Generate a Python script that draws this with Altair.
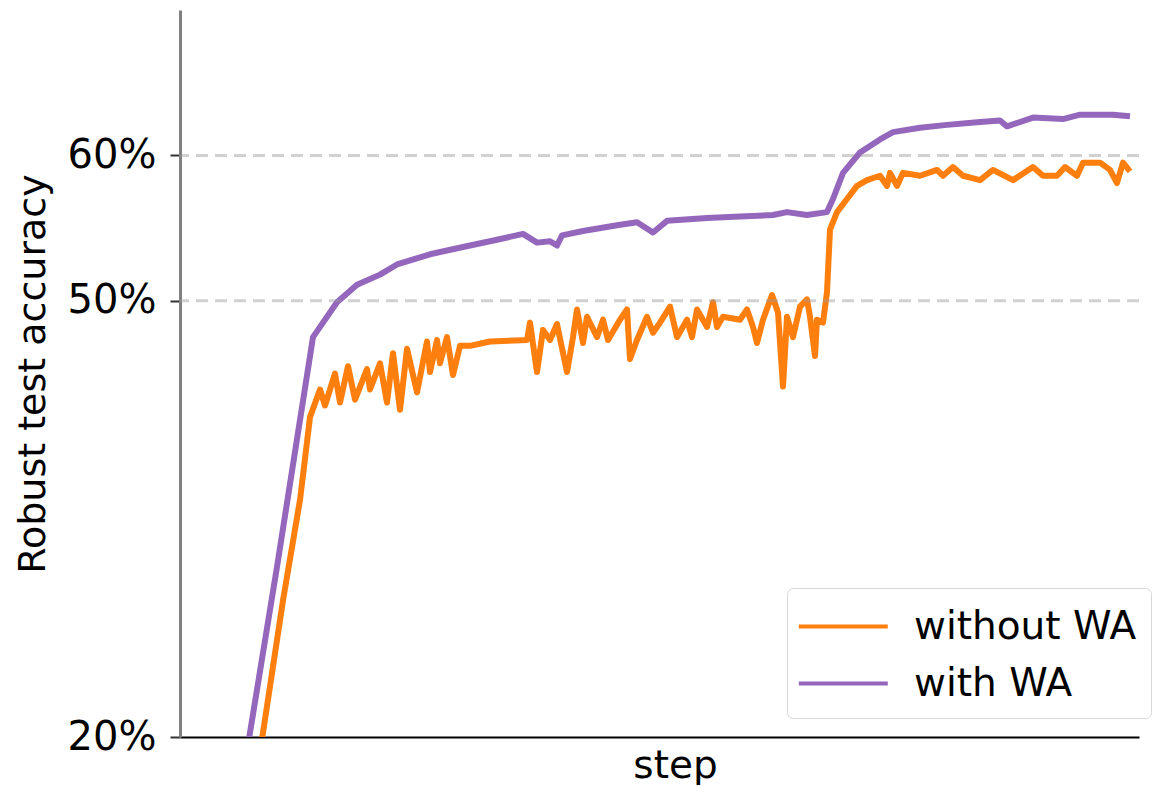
import altair as alt
import pandas as pd

# ---- data ----
with_steps = [46, 70, 97, 120, 133, 143, 157, 177, 200, 217, 250, 283, 317, 343, 357, 370, 377, 382, 403,
              437, 457, 473, 487, 527, 560, 593, 607, 627, 647, 653, 663, 680, 700, 713, 740,
              767, 800, 820, 827, 853, 883, 900, 933, 950]
with_acc = [10.0, 20.3, 31.7, 41.8, 47.5, 48.5, 49.9, 51.1, 51.8, 52.5, 53.2, 53.7, 54.2, 54.6, 54.0, 54.1, 53.8, 54.5, 54.8,
            55.2, 55.4, 54.7, 55.5, 55.7, 55.8, 55.9, 56.1, 55.9, 56.1, 57.0, 58.8, 60.2, 61.1, 61.6, 61.9,
            62.1, 62.3, 62.4, 62.0, 62.6, 62.5, 62.8, 62.8, 62.7]

without_steps = [61, 83, 103, 120, 130, 140, 145, 155, 160, 168, 175, 187, 190, 200, 207,
                 213, 220, 227, 237, 247, 250, 257, 260, 267, 273, 280, 290, 310, 347, 350, 357, 363, 370,
                 377, 387, 393, 397, 403, 407, 417, 423, 428, 440, 447, 450, 457, 467, 473, 480, 490,
                 497, 507, 512, 517, 527, 533, 537, 543, 560, 567, 573, 577, 583, 592, 598, 603, 607,
                 613, 620, 627, 630, 635, 637, 643, 647, 650, 657, 667, 677, 687, 700, 707, 710, 717,
                 723, 740, 757, 763, 773, 783, 800, 813, 833, 853, 863, 877, 885, 897, 903, 920, 930,
                 937, 943, 950]
without_acc = [10.0, 20.3, 29.4, 36.3, 42.0, 43.9, 42.8, 45.0, 43.0, 45.5, 43.2, 45.3, 43.9, 45.7, 43.0,
               46.4, 42.5, 46.7, 43.7, 47.2, 45.1, 47.3, 45.7, 47.5, 44.9, 46.9, 46.9, 47.2, 47.3, 48.5, 45.1, 48.0, 47.3,
               48.4, 45.1, 47.5, 49.4, 47.1, 48.9, 47.5, 48.7, 47.3, 48.7, 49.4, 46.0, 47.3, 48.9, 47.8, 48.5, 49.6,
               47.5, 48.7, 47.5, 49.4, 48.2, 49.9, 48.2, 48.9, 48.7, 49.4, 48.2, 47.1, 48.7, 50.4, 49.2, 44.1, 48.9,
               47.5, 49.6, 50.1, 48.9, 46.2, 48.7, 48.5, 50.6, 54.9, 56.1, 57.0, 57.9, 58.3, 58.6, 57.9, 58.8, 57.9,
               58.8, 58.6, 59.0, 58.6, 59.2, 58.6, 58.3, 59.0, 58.3, 59.2, 58.6, 58.6, 59.2, 58.6, 59.5, 59.5, 59.0,
               58.1, 59.5, 58.9]

series_names = ["without WA", "with WA"]
series_colors = ["#ff7f0e", "#9467bd"]
y_ticks = [20, 50, 60]
grid_values = [50, 60]

df = pd.concat([
    pd.DataFrame({"step": without_steps, "acc": without_acc, "series": series_names[0], "order": 0}),
    pd.DataFrame({"step": with_steps, "acc": with_acc, "series": series_names[1], "order": 1}),
], ignore_index=True)
grid_df = pd.DataFrame({"g": grid_values})

FONT = "DejaVu Sans"

x_scale = alt.Scale(domain=[0, 959], nice=False, zero=False)
y_scale = alt.Scale(domain=[20, 70], nice=False, zero=False)

lines = alt.Chart(df).mark_line(strokeWidth=6, clip=True, strokeJoin="round").encode(
    x=alt.X("step:Q", scale=x_scale,
            axis=alt.Axis(title="step", labels=False, ticks=False, grid=False,
                          domainColor="#000000", domainWidth=2,
                          titleFont=FONT, titleFontSize=39, titleFontWeight="normal",
                          titleColor="#000000", titlePadding=9, titleX=495)),
    y=alt.Y("acc:Q", scale=y_scale,
            axis=alt.Axis(title="Robust test accuracy", values=y_ticks, grid=False,
                          labelExpr="datum.value + '%'",
                          labelFont=FONT, labelFontSize=40, labelColor="#000000",
                          labelPadding=14, tickSize=10, tickWidth=2, tickColor="#333333",
                          domainColor="#808080", domainWidth=3,
                          titleFont=FONT, titleFontSize=38, titleFontWeight="normal",
                          titleColor="#000000", titleX=-128)),
    color=alt.Color("series:N", sort=series_names,
                    scale=alt.Scale(domain=series_names, range=series_colors),
                    legend=alt.Legend(title=None, orient="none", legendX=607, legendY=578,
                                      symbolType="M-1.2,0H2.8", symbolSize=1980, symbolStrokeWidth=4,
                                      labelFont=FONT, labelFontSize=39, labelColor="#000000",
                                      labelLimit=0, labelOffset=64, rowPadding=12, padding=14,
                                      strokeColor="#d6d6d6", fillColor="#ffffff", cornerRadius=6)),
    detail="series:N",
    order="order:Q",
)

grid = alt.Chart(grid_df).mark_rule(color="#9a9a9a", opacity=0.45, strokeWidth=3,
                                    strokeDash=[12, 7]).encode(
    y=alt.Y("g:Q", scale=y_scale)
)

chart = alt.layer(lines, grid).properties(
    width=959, height=727,
    padding={"left": 172, "top": 2, "right": 16, "bottom": 48},
    autosize=alt.AutoSizeParams(type="none"),
    background="#ffffff",
).configure_view(stroke=None)

chart.save("out.html", embed_options={"renderer": "svg", "actions": False})
